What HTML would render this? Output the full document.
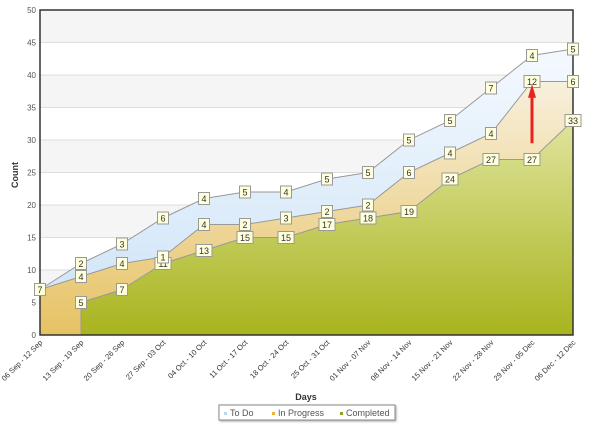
<!DOCTYPE html>
<html><head><meta charset="utf-8"><style>
body{margin:0;background:#fff;font-family:"Liberation Sans",sans-serif}
svg text{font-family:"Liberation Sans",sans-serif}
</style></head><body>
<svg id="chart" width="600" height="438" xmlns="http://www.w3.org/2000/svg">
<defs>
<linearGradient id="gC" x1="0" y1="0" x2="0" y2="1"><stop offset="0" stop-color="#dfe49c"/><stop offset="1" stop-color="#a8b41e"/></linearGradient>
<linearGradient id="gP" x1="0" y1="0" x2="0" y2="1"><stop offset="0" stop-color="#f8f0dc"/><stop offset="1" stop-color="#e6c264"/></linearGradient>
<linearGradient id="gT" x1="0" y1="0" x2="0" y2="1"><stop offset="0" stop-color="#f4f9fe"/><stop offset="1" stop-color="#d2e6f8"/></linearGradient>
</defs>
<g id="bands"></g>
<g id="areas"></g>
<g id="labels"></g>
<text x="0" y="0" transform="translate(18,175) rotate(-90)" text-anchor="middle" font-size="9" font-weight="bold" fill="#333">Count</text>
<text x="306" y="400" text-anchor="middle" font-size="9" font-weight="bold" fill="#333">Days</text>
<g>
<rect x="219" y="405" width="176" height="15" fill="#fff" stroke="#888" style="filter:drop-shadow(1px 1px 1px #aaa)"/>
<rect x="224" y="412" width="3" height="3" fill="#b8d8f0"/><text x="230" y="416" font-size="9" fill="#555">To Do</text>
<rect x="272" y="412" width="3" height="3" fill="#f0b030"/><text x="278" y="416" font-size="9" fill="#555">In Progress</text>
<rect x="340" y="412" width="3" height="3" fill="#8aa820"/><text x="346" y="416" font-size="9" fill="#555">Completed</text>
</g>
</svg>
<script>
const categories=["06 Sep - 12 Sep","13 Sep - 19 Sep","20 Sep - 26 Sep","27 Sep - 03 Oct","04 Oct - 10 Oct","11 Oct - 17 Oct","18 Oct - 24 Oct","25 Oct - 31 Oct","01 Nov - 07 Nov","08 Nov - 14 Nov","15 Nov - 21 Nov","22 Nov - 28 Nov","29 Nov - 05 Dec","06 Dec - 12 Dec"];
const completed=[null,5,7,11,13,15,15,17,18,19,24,27,27,33];
const inProgress=[7,4,4,1,4,2,3,2,2,6,4,4,12,6];
const toDo=[0,2,3,6,4,5,4,5,5,5,5,7,4,5];
const yTicks=[0,5,10,15,20,25,30,35,40,45,50];
const L=40,R=573,T=10,B=335,YMAX=50;
const NS="http://www.w3.org/2000/svg";
const xs=i=>L+i*(R-L)/(categories.length-1);
const ys=v=>B-v*(B-T)/YMAX;
function mk(tag,at,parent){const e=document.createElementNS(NS,tag);for(const k in at)e.setAttribute(k,at[k]);(parent||document.getElementById('chart')).appendChild(e);return e;}
const bands=document.getElementById('bands'),areas=document.getElementById('areas'),labels=document.getElementById('labels'),svg=document.getElementById('chart');
mk('rect',{x:L,y:T,width:R-L,height:B-T,fill:'#fff'},bands);
for(let k=0;k<yTicks.length-1;k++){
  const a=yTicks[k],b=yTicks[k+1];
  if(k%2===1){const r=mk('rect',{x:L,y:ys(b),width:R-L,height:ys(a)-ys(b),fill:'#f5f5f5'},bands);
  
  }
}
yTicks.forEach(v=>{
  const g=mk('line',{x1:L,x2:R,y1:ys(v),y2:ys(v),stroke:'#ddd','stroke-width':1},bands);
  
  
  const t=mk('text',{x:L-4,y:ys(v)+3,'text-anchor':'end','font-size':8,fill:'#555'},svg);t.textContent=v;
  
  
});
const n=categories.length;
const c0=completed.map(v=>v==null?0:v);
const c1=c0.map((v,i)=>v+inProgress[i]);
const c2=c1.map((v,i)=>v+toDo[i]);
function area(top,bot,fill,name,start){
  let d='';
  for(let i=start;i<n;i++)d+=(i===start?'M':'L')+xs(i)+','+ys(top[i]);
  for(let i=n-1;i>=start;i--)d+='L'+xs(i)+','+ys(bot[i]);
  d+='Z';
  const p=mk('path',{d:d,fill:fill},areas);
  
  
  let l='';for(let i=start;i<n;i++)l+=(i===start?'M':'L')+xs(i)+','+ys(top[i]);
  mk('path',{d:l,fill:'none',stroke:'#999','stroke-width':1},areas);
}
const zero=c0.map(()=>0);
area(c2,c1,'url(#gT)','todo-area',0);
area(c1,zero,'url(#gP)','in-progress-area',0);
const cs=completed.findIndex(v=>v!=null);
area(c0,zero,'url(#gC)','completed-area',cs);
mk('line',{x1:xs(cs),x2:xs(cs),y1:ys(c0[cs]),y2:B,stroke:'#999'},areas);
// frame
mk('rect',{x:L,y:T,width:R-L,height:B-T,fill:'none',stroke:'#333','stroke-width':1.5},areas);
function lab(x,y,v,name){
  const w=String(v).length>1?16:11;
  const r=mk('rect',{x:x-w/2,y:y-6,width:w,height:12,fill:'#ffffdc',stroke:'#999'},labels);
  
  
  const t=mk('text',{x:x,y:y+3.5,'text-anchor':'middle','font-size':9,fill:'#333'},labels);t.textContent=v;
  
  
}
for(let i=0;i<n;i++){
  if(completed[i]!=null)lab(xs(i),ys(c0[i]),completed[i],'completed');
  if(inProgress[i])lab(xs(i),ys(c1[i]),inProgress[i],'in-progress');
  if(toDo[i])lab(xs(i),ys(c2[i]),toDo[i],'todo');
  const t=mk('text',{x:0,y:0,'text-anchor':'end','font-size':7.5,fill:'#333',transform:`translate(${xs(i)+3},${B+8}) rotate(-45)`},svg);
  t.textContent=categories[i];
  
  
}
// red arrow annotation
const ax=xs(12);
const a=mk('path',{d:`M${ax-1.5},${ys(29.5)}L${ax-1.5},${ys(36.5)}L${ax-4},${ys(36.5)}L${ax},${ys(38.6)}L${ax+4},${ys(36.5)}L${ax+1.5},${ys(36.5)}L${ax+1.5},${ys(29.5)}Z`,fill:'#e8231e'},svg);


</script>
</body></html>
